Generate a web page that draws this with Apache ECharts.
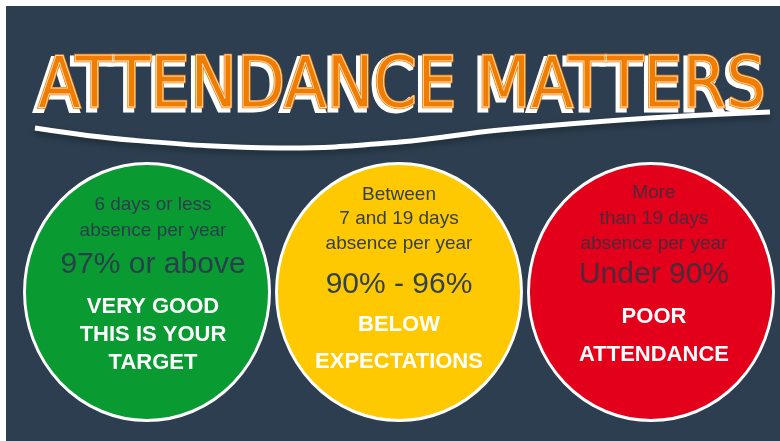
<!DOCTYPE html>
<html>
<head>
<meta charset="utf-8">
<script src="https://cdn.jsdelivr.net/npm/echarts@6/dist/echarts.min.js"></script>
<style>
  html, body { margin: 0; padding: 0; background: #fff; }
  #main { width: 780px; height: 441px; }
</style>
</head>
<body>
<div id="main"></div>
<script>
// 数据
const titleText = 'ATTENDANCE MATTERS';
const categories = ['Very good', 'Below expectations', 'Poor attendance'];
const absenceLines = [
  ['6 days or less', 'absence per year'],
  ['Between', '7 and 19 days', 'absence per year'],
  ['More', 'than 19 days', 'absence per year']
];
const rateLabels = ['97% or above', '90% - 96%', 'Under 90%'];
const verdictLines = [
  ['VERY GOOD', 'THIS IS YOUR', 'TARGET'],
  ['BELOW', 'EXPECTATIONS'],
  ['POOR', 'ATTENDANCE']
];

// 样式
const circleColors = ['#0a9a32', '#fec900', '#e2001a'];
const darkText = ['#2a3f4c', '#34404f', '#4b2a3a'];
const bgColor = '#2c3e50';
const font = '"Liberation Sans", Arial, sans-serif';
const lineStyles = {
  small: { fontSize: 19, fontWeight: 'normal' },
  rate: { fontSize: 30, fontWeight: 'normal' },
  verdict: { fontSize: 22, fontWeight: 'bold' }
};
// 每行文字相对圆心的偏移
const lineOffsets = [
  [-87, -61, -27, 15, 43, 71],
  [-97, -73, -48, -7, 33, 70],
  [-99, -73, -48, -17, 25, 63]
];
const lineShiftX = [6, 0, 3];

const chart = echarts.init(document.getElementById('main'));

// 标题宽度缩放
const titleFont = '72px "DejaVu Sans Condensed", "DejaVu Sans", sans-serif';
const ctx = document.createElement('canvas').getContext('2d');
ctx.font = titleFont;
const titleScale = 728 / ctx.measureText(titleText).width;

const circleData = categories.map((c, i) => ({
  value: [c, 0],
  itemStyle: { color: circleColors[i] }
}));

const textData = [];
categories.forEach((c, i) => {
  const lines = absenceLines[i].map(t => ({ t, kind: 'small' }))
    .concat([{ t: rateLabels[i], kind: 'rate' }])
    .concat(verdictLines[i].map(t => ({ t, kind: 'verdict' })));
  lines.forEach((ln, j) => {
    textData.push({
      value: [c, 0],
      label: {
        show: true,
        position: 'inside',
        formatter: ln.t,
        offset: [lineShiftX[i], lineOffsets[i][j]],
        fontFamily: font,
        fontSize: lineStyles[ln.kind].fontSize,
        fontWeight: lineStyles[ln.kind].fontWeight,
        color: ln.kind === 'verdict' ? '#ffffff' : darkText[i]
      }
    });
  });
});

const titleStyle = {
  text: titleText,
  font: titleFont,
  align: 'center',
  verticalAlign: 'middle',
  textAlign: 'center',
  textVerticalAlign: 'middle'
};

const option = {
  animation: false,
  backgroundColor: '#ffffff',
  grid: { left: 21, width: 756, top: 162, height: 260 },
  xAxis: { type: 'category', data: categories, show: false },
  yAxis: { type: 'value', min: -1, max: 1, show: false },
  graphic: [
    { type: 'rect', z: -10, shape: { x: 6, y: 6, width: 774, height: 435 }, style: { fill: bgColor } },
    {
      type: 'polyline', z: -5,
      shape: { points: [[35, 128], [130, 140], [280, 148], [400, 142], [500, 130], [650, 118], [770, 112]], smooth: 0.4 },
      style: { stroke: '#ffffff', lineWidth: 5, fill: null, shadowBlur: 6, shadowColor: 'rgba(0,0,0,0.35)', shadowOffsetY: 3 }
    },
    {
      type: 'text', z: -4, x: 399, y: 91, scaleX: titleScale, scaleY: 1,
      style: Object.assign({}, titleStyle, {
        fill: '#ffffff', stroke: '#ffffff', lineWidth: 5,
        shadowBlur: 10, shadowColor: 'rgba(0,0,0,0.45)', shadowOffsetY: 6
      })
    },
    {
      type: 'text', z: -3, x: 402, y: 88, scaleX: titleScale, scaleY: 1,
      style: Object.assign({}, titleStyle, { fill: '#f07c00', stroke: '#f07c00', lineWidth: 2.5 })
    },
    {
      type: 'text', z: -2, x: 402, y: 88, scaleX: titleScale, scaleY: 1,
      style: Object.assign({}, titleStyle, { fill: 'rgba(0,0,0,0)', stroke: '#ffe2c4', lineWidth: 0.8 })
    }
  ],
  series: [
    {
      name: 'circles',
      type: 'scatter',
      symbol: 'circle',
      symbolSize: [245, 257],
      itemStyle: { borderColor: '#ffffff', borderWidth: 3, opacity: 1 },
      data: circleData,
      z: 2
    },
    {
      name: 'texts',
      type: 'scatter',
      symbolSize: 1,
      itemStyle: { color: 'rgba(0,0,0,0)', opacity: 1 },
      data: textData,
      z: 3
    }
  ]
};

chart.setOption(option);
</script>
</body>
</html>
